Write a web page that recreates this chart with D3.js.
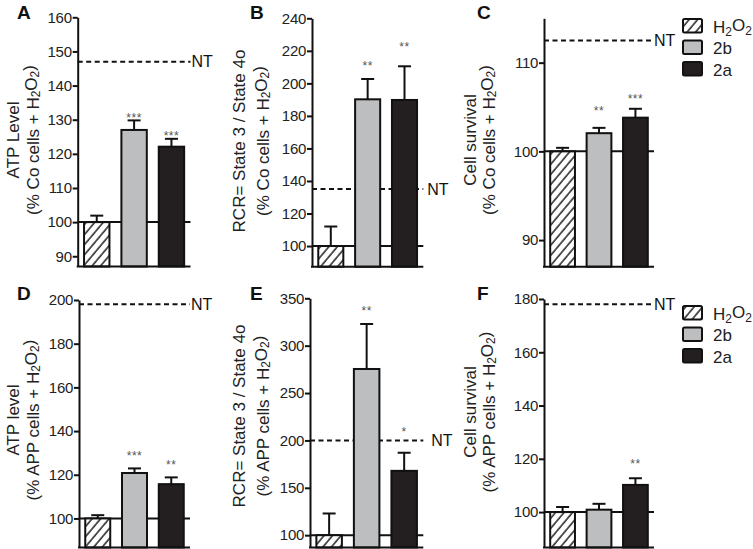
<!DOCTYPE html>
<html><head><meta charset="utf-8">
<script src="https://cdn.jsdelivr.net/npm/d3@7"></script>
<style>
html,body{margin:0;padding:0;background:#fff;}
svg{display:block;font-family:"Liberation Sans",Arial,Helvetica,sans-serif;}
</style></head>
<body>
<svg id="chart" width="753" height="549"></svg>
<script>
// ---------- data ----------
const categories = ["H2O2", "2b", "2a"];
const legendLabels = ["H2O2", "2b", "2a"];

const valuesA = [100, 127.0, 122.1];
const errorsA = [101.9, 129.8, 124.4];
const starsA = ["", "***", "***"];
const starLevelA = [null, 131.3, 126.2];
const ntA = 147;
const ticksA = [90, 100, 110, 120, 130, 140, 150, 160];

const valuesB = [100, 190.2, 189.8];
const errorsB = [112, 202.7, 210.5];
const starsB = ["", "**", "**"];
const starLevelB = [null, 212.5, 224.2];
const ntB = 135;
const ticksB = [100, 120, 140, 160, 180, 200, 220, 240];

const valuesC = [100, 102.05, 103.8];
const errorsC = [100.4, 102.65, 104.8];
const starsC = ["", "**", "***"];
const starLevelC = [null, 104.9, 106.2];
const ntC = 112.5;
const ticksC = [90, 100, 110];

const valuesD = [100, 120.8, 115.7];
const errorsD = [101.5, 122.9, 118.8];
const starsD = ["", "***", "**"];
const starLevelD = [null, 129.8, 125.7];
const ntD = 198;
const ticksD = [100, 120, 140, 160, 180, 200];

const valuesE = [100, 275.4, 167.9];
const errorsE = [122.9, 322.9, 187];
const starsE = ["", "**", "*"];
const starLevelE = [null, 339.6, 212];
const ntE = 200;
const ticksE = [100, 150, 200, 250, 300, 350];

const valuesF = [100, 100.9, 110.2];
const errorsF = [101.9, 103.1, 112.7];
const starsF = ["", "", "**"];
const starLevelF = [null, null, 119];
const ntF = 178;
const ticksF = [100, 120, 140, 160, 180];

// ---------- layout ----------
const panels = [
  {letter:"A", lx:17, ly:19, x0:77.7, x1:190.5, yTop:17.3, yBot:266.5, dom:[87,160], ticks:ticksA, values:valuesA, errors:errorsA, stars:starsA, starLv:starLevelA, nt:ntA, ntGap:1,
   l1:"ATP Level", l2:"Co", lab1x:13, lab2x:32.5, labY:140},
  {letter:"B", lx:250, ly:19, x0:312, x1:423.3, yTop:18.3, yBot:266.7, dom:[87.3,240], ticks:ticksB, values:valuesB, errors:errorsB, stars:starsB, starLv:starLevelB, nt:ntB, ntGap:4,
   l1:"RCR= State 3 / State 4o", l2:"Co", lab1x:239, lab2x:262.5, labY:141},
  {letter:"C", lx:477, ly:19, x0:544, x1:654, yTop:18.3, yBot:266.7, dom:[87,115], ticks:ticksC, values:valuesC, errors:errorsC, stars:starsC, starLv:starLevelC, nt:ntC, ntGap:0,
   l1:"Cell survival", l2:"Co", lab1x:470, lab2x:488.5, labY:140, legend:{x:683, y:19}},
  {letter:"D", lx:17, ly:300, x0:79, x1:190, yTop:300, yBot:547.5, dom:[86.7,200], ticks:ticksD, values:valuesD, errors:errorsD, stars:starsD, starLv:starLevelD, nt:ntD, ntGap:1,
   l1:"ATP level", l2:"APP", lab1x:13, lab2x:32.5, labY:420},
  {letter:"E", lx:250, ly:300, x0:310, x1:423.3, yTop:298.3, yBot:547.5, dom:[87,350], ticks:ticksE, values:valuesE, errors:errorsE, stars:starsE, starLv:starLevelE, nt:ntE, ntGap:8,
   l1:"RCR= State 3 / State 4o", l2:"APP", lab1x:239, lab2x:262.5, labY:416},
  {letter:"F", lx:477, ly:300, x0:544, x1:654, yTop:299, yBot:547.5, dom:[86.7,180], ticks:ticksF, values:valuesF, errors:errorsF, stars:starsF, starLv:starLevelF, nt:ntF, ntGap:0,
   l1:"Cell survival", l2:"APP", lab1x:470, lab2x:488.5, labY:412, legend:{x:683, y:306}}
];

const GRAY = "#bdbec0", DARK = "#231f20";
const fills = ["url(#hatch)", GRAY, DARK];

const svg = d3.select("#chart");
const defs = svg.append("defs");
const pat = defs.append("pattern").attr("id","hatch").attr("patternUnits","userSpaceOnUse")
  .attr("width",6.5).attr("height",6.5).attr("patternTransform","rotate(40)");
pat.append("rect").attr("width",6.5).attr("height",6.5).attr("fill","#fff");
pat.append("line").attr("x1",1).attr("y1",0).attr("x2",1).attr("y2",6.5).attr("stroke","#111").attr("stroke-width",1.4);

// helper: text with H2O2 subscripts
function h2o2(sel, prefix, suffix){
  if(prefix) sel.append("tspan").text(prefix);
  sel.append("tspan").text("H");
  sel.append("tspan").attr("font-size","0.7em").attr("dy","0.3em").text("2");
  sel.append("tspan").attr("dy","-0.3em").text("O");
  sel.append("tspan").attr("font-size","0.7em").attr("dy","0.3em").text("2");
  sel.append("tspan").attr("dy","-0.3em").text(suffix || "");
}

panels.forEach(p => {
  const g = svg.append("g");
  const y = d3.scaleLinear().domain(p.dom).range([p.yBot, p.yTop]);
  const x = d3.scaleBand().domain(categories).range([p.x0, p.x1]).paddingInner(0.32).paddingOuter(0.17);

  // panel letter
  g.append("text").attr("x", p.lx).attr("y", p.ly).attr("font-size", 19).attr("font-weight","bold").attr("fill","#111").text(p.letter);

  // axis labels
  g.append("text").attr("transform", `translate(${p.lab1x},${p.labY}) rotate(-90)`)
    .attr("text-anchor","middle").attr("dominant-baseline","central").attr("font-size",17).attr("fill","#222").text(p.l1);
  const t2 = g.append("text").attr("transform", `translate(${p.lab2x},${p.labY}) rotate(-90)`)
    .attr("text-anchor","middle").attr("dominant-baseline","central").attr("font-size",17).attr("fill","#222");
  h2o2(t2, `(% ${p.l2} cells + `, ")");

  // baseline at 100
  g.append("line").attr("x1", p.x0).attr("x2", p.x1).attr("y1", y(100)).attr("y2", y(100))
    .attr("stroke","#111").attr("stroke-width",2);

  // NT dashed line
  g.append("line").attr("x1", p.x0).attr("x2", p.x1).attr("y1", y(p.nt)).attr("y2", y(p.nt))
    .attr("stroke","#111").attr("stroke-width",2).attr("stroke-dasharray","5,3.5");
  g.append("text").attr("x", p.x1 + p.ntGap).attr("y", y(p.nt)).attr("dominant-baseline","central")
    .attr("font-size",16).attr("fill","#111").text("NT");

  // error bars
  categories.forEach((c,i) => {
    const cx = x(c) + x.bandwidth()/2;
    g.append("line").attr("x1",cx).attr("x2",cx).attr("y1",y(p.values[i])).attr("y2",y(p.errors[i]))
      .attr("stroke","#111").attr("stroke-width",2);
    g.append("line").attr("x1",cx-6.5).attr("x2",cx+6.5).attr("y1",y(p.errors[i])).attr("y2",y(p.errors[i]))
      .attr("stroke","#111").attr("stroke-width",2);
  });

  // bars
  g.selectAll("rect.bar").data(categories).enter().append("rect").attr("class","bar")
    .attr("x", c => x(c)).attr("width", x.bandwidth())
    .attr("y", (c,i) => y(p.values[i])).attr("height", (c,i) => p.yBot - y(p.values[i]))
    .attr("fill", (c,i) => fills[i]).attr("stroke","#111").attr("stroke-width",2);

  // stars
  categories.forEach((c,i) => {
    if(!p.stars[i]) return;
    g.append("text").attr("x", x(c) + x.bandwidth()/2).attr("y", y(p.starLv[i]) + 7)
      .attr("text-anchor","middle").attr("font-size",12).attr("fill","#555").attr("letter-spacing","0.5")
      .text(p.stars[i]);
  });

  // y axis
  const ax = g.append("g").attr("transform",`translate(${p.x0},0)`)
    .call(d3.axisLeft(y).tickValues(p.ticks).tickSize(5).tickSizeOuter(0).tickPadding(1).tickFormat(d3.format("d")));
  ax.select(".domain").attr("stroke","#111").attr("stroke-width",2);
  ax.selectAll(".tick line").attr("stroke","#111").attr("stroke-width",2);
  ax.selectAll(".tick text").attr("font-size",15).attr("fill","#222").attr("font-family","'Liberation Sans',Arial,sans-serif").attr("letter-spacing","-0.3");

  // x axis line
  g.append("line").attr("x1", p.x0 - 1).attr("x2", p.x1).attr("y1", p.yBot).attr("y2", p.yBot)
    .attr("stroke","#111").attr("stroke-width",2);

  // legend
  if(p.legend){
    const lg = g.append("g");
    legendLabels.forEach((lab,i) => {
      const yy = p.legend.y + i*21.5;
      lg.append("rect").attr("x", p.legend.x).attr("y", yy).attr("width",19).attr("height",13.5).attr("rx",1.5)
        .attr("fill", fills[i]).attr("stroke","#111").attr("stroke-width",2);
      const t = lg.append("text").attr("x", p.legend.x + 30).attr("y", yy + 13.5).attr("font-size",17).attr("fill","#222");
      if(i===0) h2o2(t, "", ""); else t.text(lab);
    });
  }
});
</script>
</body></html>
